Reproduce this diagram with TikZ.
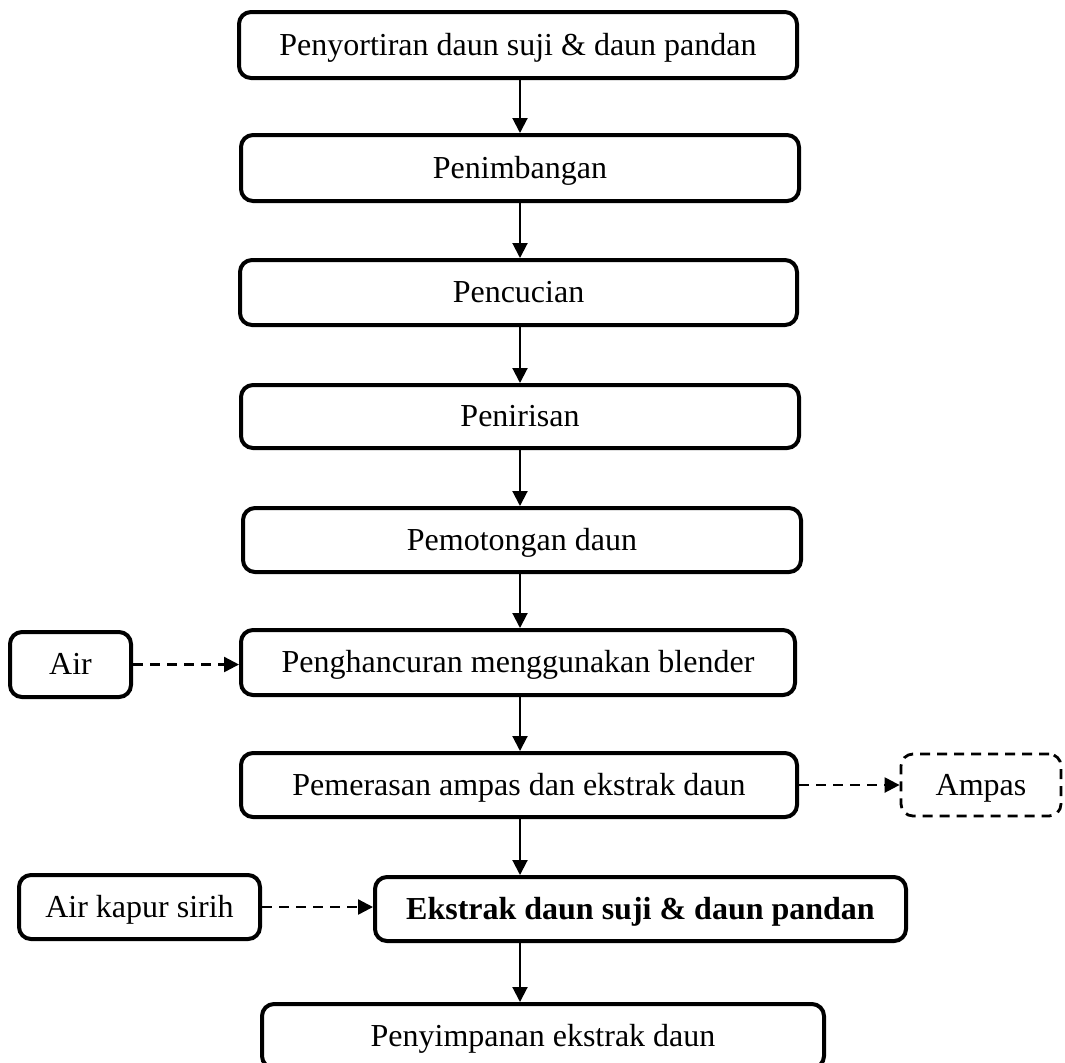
\documentclass[tikz,border=0pt]{standalone}
\usepackage{fontspec}
\setmainfont{Liberation Serif}
\usetikzlibrary{arrows.meta}
\tikzset{
  box/.style={draw, line width=2pt, rounded corners=6pt, inner sep=0pt, align=center,
    font=\fontsize{16pt}{18pt}\selectfont, text height=1.05em, text depth=0.02em},
  dbox/.style={box, line width=1.4pt, dash pattern=on 5pt off 3.5pt},
  flow/.style={line width=1pt, -{Triangle[length=7.5pt,width=7.5pt]}},
  side/.style={flow, line width=1.2pt, dash pattern=on 5pt off 3.5pt}
}
\begin{document}
\begin{tikzpicture}[x=0.5pt,y=-0.5pt]
\useasboundingbox (0,0) rectangle (1065,1062);
\clip (0,0) rectangle (1065,1062);
\coordinate (col) at (520,0);
\node[box, minimum width=279pt, minimum height=33pt] (b1) at (518,45) {Penyortiran daun suji \& daun pandan};
\node[box, minimum width=279pt, minimum height=33pt] (b2) at (520,168) {Penimbangan};
\node[box, minimum width=278.5pt, minimum height=32.5pt] (b3) at (518.5,292.5) {Pencucian};
\node[box, minimum width=279pt, minimum height=31.5pt] (b4) at (520,416.5) {Penirisan};
\node[box, minimum width=279pt, minimum height=32pt] (b5) at (522,540) {Pemotongan daun};
\node[box, minimum width=277pt, minimum height=32.5pt] (b6) at (518,662.5) {Penghancuran menggunakan blender};
\node[box, minimum width=60.5pt, minimum height=32.5pt] (air) at (70.5,664.5) {Air};
\node[box, minimum width=278pt, minimum height=32pt] (b7) at (519,785) {Pemerasan ampas dan ekstrak daun};
\node[dbox, minimum width=80pt, minimum height=31pt] (ampas) at (981,785) {Ampas};
\node[box, minimum width=120.5pt, minimum height=32pt] (kapur) at (139.5,907) {Air kapur sirih};
\node[box, minimum width=265.5pt, minimum height=32pt, font=\fontsize{16pt}{18pt}\selectfont\bfseries] (b8) at (640.5,909) {Ekstrak daun suji \& daun pandan};
\node[box, minimum width=281pt, minimum height=32pt] (b9) at (543,1036) {Penyimpanan ekstrak daun};

\draw[flow] (b1.south -| col) -- (b2.north -| col);
\draw[flow] (b2.south -| col) -- (b3.north -| col);
\draw[flow] (b3.south -| col) -- (b4.north -| col);
\draw[flow] (b4.south -| col) -- (b5.north -| col);
\draw[flow] (b5.south -| col) -- (b6.north -| col);
\draw[flow] (b6.south -| col) -- (b7.north -| col);
\draw[flow] (b7.south -| col) -- (b8.north -| col);
\draw[flow] (b8.south -| col) -- (b9.north -| col);
\draw[side] (air.east) -- (air.east -| b6.west);
\draw[side] (b7.east) -- (b7.east -| ampas.west);
\draw[side] (kapur.east) -- (kapur.east -| b8.west);
\end{tikzpicture}
\end{document}
